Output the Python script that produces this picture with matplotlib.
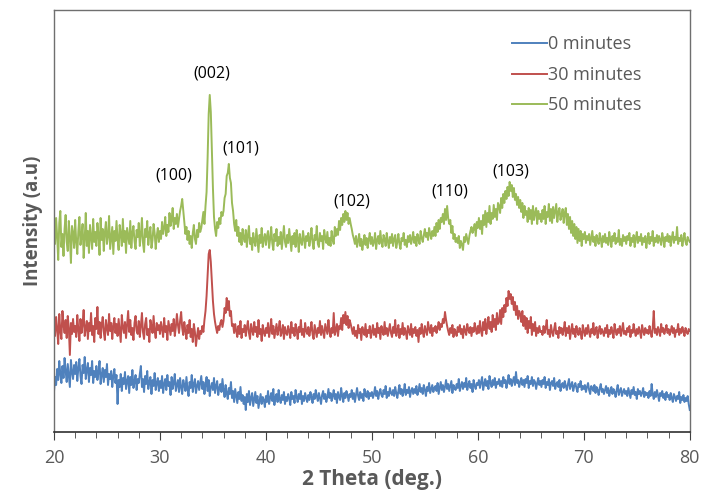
import numpy as np
import matplotlib.pyplot as plt

# 2 theta grid, 0.1 deg steps from 20 to 80
two_theta = np.round(np.arange(20, 80.001, 0.1), 1)

# intensities (arbitrary units, traces already offset)
# one row = 2 degrees
int_0min = [
    40, 55, 47, 63, 52, 71, 58, 49, 66, 54, 74, 61, 50, 68, 57, 45, 72, 60, 53, 67,
    58, 70, 51, 64, 73, 56, 48, 67, 59, 75, 53, 62, 69, 50, 64, 57, 71, 49, 61, 55,
    66, 52, 60, 71, 48, 57, 64, 50, 62, 55, 68, 47, 58, 53, 61, 45, 56, 63, 49, 57,
    28, 52, 45, 58, 41, 54, 48, 60, 43, 51, 56, 39, 55, 47, 62, 44, 50, 57, 42, 53,
    49, 58, 66, 45, 53, 40, 56, 48, 61, 43, 50, 55, 38, 52, 46, 59, 42, 49, 54, 41,
    51, 44, 56, 39, 48, 53, 42, 57, 46, 50, 37, 55, 43, 49, 58, 41, 47, 52, 40, 54,
    45, 38, 52, 47, 41, 55, 43, 36, 50, 44, 57, 40, 48, 53, 39, 46, 51, 42, 49, 56,
    43, 50, 38, 47, 55, 41, 52, 36, 45, 49, 42, 54, 39, 46, 51, 37, 44, 48, 40, 53,
    42, 35, 47, 39, 33, 44, 38, 50, 34, 41, 30, 43, 36, 29, 40, 33, 45, 31, 37, 28,
    35, 22, 38, 30, 41, 27, 34, 39, 26, 33, 40, 29, 36, 24, 31, 38, 28, 35, 32, 25,
    36, 30, 41, 28, 34, 39, 31, 43, 27, 35, 38, 30, 42, 33, 29, 37, 32, 40, 28, 35,
    31, 38, 34, 27, 40, 33, 36, 29, 42, 35, 30, 38, 33, 41, 28, 36, 31, 39, 34, 30,
    37, 32, 40, 35, 29, 38, 33, 42, 36, 31, 39, 34, 28, 37, 41, 33, 38, 30, 35, 43,
    34, 39, 31, 36, 42, 33, 38, 29, 40, 35, 32, 44, 36, 30, 39, 34, 41, 37, 31, 38,
    35, 42, 33, 39, 30, 37, 44, 36, 32, 40, 34, 38, 31, 43, 37, 35, 41, 33, 39, 36,
    40, 34, 38, 45, 36, 41, 33, 39, 43, 37, 35, 42, 38, 46, 34, 40, 36, 44, 39, 37,
    42, 36, 45, 39, 34, 41, 47, 38, 43, 36, 40, 48, 37, 42, 39, 45, 35, 41, 44, 38,
    43, 39, 46, 37, 41, 48, 40, 44, 38, 47, 42, 36, 45, 41, 49, 39, 43, 47, 40, 44,
    46, 41, 49, 38, 44, 50, 42, 47, 40, 45, 52, 43, 48, 41, 46, 51, 39, 47, 44, 42,
    48, 44, 53, 41, 46, 50, 43, 49, 45, 54, 42, 47, 51, 44, 48, 40, 52, 46, 43, 49,
    47, 52, 44, 50, 55, 42, 48, 53, 46, 51, 43, 56, 49, 45, 52, 47, 54, 44, 50, 48,
    53, 46, 51, 45, 55, 49, 52, 44, 50, 57, 48, 53, 46, 51, 55, 47, 60, 49, 52, 45,
    50, 54, 47, 52, 45, 53, 49, 56, 44, 51, 48, 55, 46, 52, 50, 43, 49, 54, 47, 51,
    45, 52, 48, 55, 44, 50, 47, 53, 42, 49, 51, 46, 54, 43, 48, 50, 45, 52, 41, 47,
    49, 44, 51, 46, 42, 48, 53, 43, 47, 50, 41, 46, 49, 44, 40, 48, 45, 51, 42, 46,
    43, 47, 40, 45, 49, 42, 38, 46, 44, 41, 47, 39, 45, 42, 37, 44, 48, 40, 43, 38,
    42, 46, 39, 44, 36, 41, 45, 38, 43, 40, 35, 42, 47, 37, 41, 44, 36, 40, 43, 38,
    41, 36, 44, 39, 34, 42, 38, 45, 37, 40, 33, 43, 38, 41, 36, 39, 44, 35, 40, 37,
    39, 34, 41, 36, 48, 38, 33, 40, 35, 42, 37, 31, 39, 36, 41, 34, 38, 32, 40, 35,
    37, 32, 39, 34, 30, 38, 35, 31, 36, 33, 40, 29, 35, 32, 37, 30, 34, 31, 36, 28,
    22]

int_30min = [
    110, 96, 115, 103, 88, 118, 101, 93, 121, 107, 99, 112, 94, 116, 104, 77, 109, 98, 113, 100,
    106, 95, 117, 102, 91, 113, 99, 108, 122, 96, 104, 111, 93, 109, 101, 119, 97, 106, 90, 114,
    103, 125, 98, 110, 94, 107, 115, 100, 92, 112, 104, 97, 118, 101, 109, 93, 106, 114, 99, 108,
    96, 113, 102, 90, 117, 105, 99, 110, 94, 107, 121, 100, 112, 97, 104, 92, 109, 116, 101, 98,
    111, 95, 106, 119, 100, 93, 108, 114, 97, 103, 90, 112, 105, 99, 116, 101, 94, 109, 102, 107,
    98, 110, 103, 95, 114, 100, 106, 92, 111, 104, 97, 108, 101, 113, 96, 105, 118, 107, 99, 111,
    120, 104, 97, 110, 101, 93, 107, 99, 112, 95, 103, 90, 108, 100, 86, 96, 104, 93, 101, 98,
    106, 100, 112, 121, 136, 158, 178, 182, 170, 150, 131, 118, 110, 104, 99, 106, 102, 109, 112, 105,
    111, 124, 119, 134, 122, 131, 116, 121, 106, 108, 99, 108, 101, 95, 106, 98, 111, 94, 103, 100,
    107, 96, 104, 111, 99, 93, 108, 102, 97, 110, 100, 105, 95, 112, 98, 103, 91, 107, 100, 96,
    104, 99, 109, 95, 102, 113, 98, 106, 94, 101, 108, 97, 103, 111, 96, 100, 107, 93, 105, 99,
    97, 106, 101, 94, 110, 99, 104, 96, 108, 102, 93, 105, 100, 112, 97, 103, 95, 109, 101, 98,
    105, 96, 102, 110, 98, 93, 107, 101, 95, 104, 99, 111, 97, 106, 100, 94, 108, 103, 98, 112,
    101, 95, 104, 99, 119, 97, 102, 108, 96, 106, 103, 114, 102, 117, 109, 120, 107, 116, 104, 112,
    108, 103, 98, 105, 96, 101, 94, 107, 99, 103, 92, 105, 100, 97, 108, 95, 102, 99, 106, 94,
    100, 107, 97, 103, 95, 109, 99, 104, 93, 106, 101, 97, 110, 98, 104, 96, 102, 108, 99, 95,
    105, 99, 112, 96, 101, 107, 94, 103, 98, 109, 97, 104, 100, 93, 106, 101, 97, 108, 95, 103,
    99, 105, 96, 102, 90, 104, 98, 108, 100, 95, 106, 101, 97, 110, 103, 99, 107, 96, 104, 101,
    106, 99, 104, 110, 102, 108, 105, 113, 109, 120, 112, 106, 101, 97, 104, 99, 107, 95, 103, 100,
    96, 105, 100, 107, 98, 103, 94, 106, 101, 97, 108, 102, 99, 105, 96, 104, 100, 109, 103, 98,
    106, 99, 111, 101, 96, 110, 102, 113, 98, 107, 115, 103, 110, 100, 117, 105, 113, 102, 119, 108,
    110, 122, 108, 124, 115, 127, 120, 134, 126, 141, 133, 138, 128, 135, 122, 130, 117, 126, 113, 121,
    118, 110, 121, 106, 116, 103, 114, 99, 111, 104, 115, 97, 108, 101, 110, 96, 104, 99, 106, 100,
    101, 97, 106, 99, 104, 112, 98, 102, 95, 107, 100, 96, 103, 109, 98, 101, 94, 105, 99, 104,
    97, 102, 110, 96, 104, 99, 106, 93, 101, 108, 98, 103, 95, 106, 100, 97, 104, 99, 93, 107,
    101, 96, 104, 98, 107, 100, 95, 103, 99, 109, 97, 102, 105, 94, 101, 106, 98, 103, 100, 96,
    104, 99, 107, 95, 102, 98, 105, 100, 94, 108, 101, 97, 103, 99, 106, 96, 102, 109, 98, 101,
    97, 104, 100, 106, 95, 102, 99, 108, 101, 96, 103, 98, 105, 100, 94, 107, 101, 97, 104, 99,
    102, 98, 106, 100, 95, 104, 121, 99, 103, 97, 105, 101, 96, 108, 100, 104, 98, 102, 107, 99,
    103, 97, 101, 106, 99, 104, 95, 102, 100, 108, 97, 103, 99, 105, 101, 96, 104, 100, 98, 103,
    101]

int_50min = [
    205, 188, 214, 196, 172, 209, 221, 185, 198, 176, 203, 217, 190, 181, 211, 194, 169, 206, 199, 184,
    212, 190, 178, 201, 215, 187, 196, 208, 174, 193, 219, 186, 201, 179, 207, 195, 183, 213, 190, 200,
    186, 209, 197, 177, 214, 192, 203, 181, 199, 210, 188, 196, 216, 183, 194, 205, 178, 201, 191, 211,
    193, 182, 207, 198, 186, 213, 190, 201, 179, 204, 196, 188, 211, 184, 199, 206, 191, 183, 202, 195,
    209, 186, 197, 214, 189, 180, 203, 195, 211, 187, 198, 205, 184, 192, 208, 199, 183, 196, 204, 190,
    201, 193, 210, 198, 204, 215, 196, 207, 200, 219, 206, 212, 224, 203, 214, 208, 218, 205, 213, 221,
    226, 233, 222, 210, 198, 205, 192, 201, 188, 196, 184, 199, 207, 193, 188, 202, 195, 209, 200, 204,
    212, 220, 208, 226, 240, 275, 318, 337, 320, 281, 244, 215, 203, 196, 210, 204, 214, 208, 220, 216,
    221, 234, 238, 256, 259, 268, 254, 249, 229, 221, 208, 201, 212, 196, 205, 190, 199, 187, 203, 194,
    190, 202, 185, 197, 206, 188, 194, 182, 199, 191, 186, 203, 192, 180, 197, 189, 204, 185, 193, 198,
    187, 196, 201, 184, 193, 205, 189, 182, 198, 191, 203, 186, 195, 188, 200, 183, 194, 206, 190, 185,
    197, 189, 203, 192, 181, 196, 188, 199, 185, 202, 194, 180, 198, 190, 187, 201, 193, 184, 196, 191,
    199, 186, 193, 204, 190, 183, 197, 192, 206, 188, 185, 199, 191, 196, 183, 202, 194, 189, 200, 187,
    194, 186, 201, 192, 188, 205, 196, 203, 197, 211, 202, 214, 207, 218, 210, 221, 212, 219, 208, 214,
    208, 203, 197, 193, 188, 196, 185, 191, 198, 186, 193, 182, 190, 197, 187, 194, 184, 192, 199, 188,
    195, 186, 190, 199, 183, 192, 196, 188, 201, 190, 185, 197, 193, 186, 199, 191, 184, 195, 189, 198,
    186, 193, 197, 184, 190, 198, 188, 183, 194, 191, 199, 187, 192, 185, 196, 190, 197, 188, 193, 200,
    189, 195, 186, 198, 192, 188, 201, 194, 190, 197, 203, 195, 199, 192, 204, 198, 193, 201, 196, 205,
    196, 209, 200, 212, 203, 214, 210, 218, 208, 223, 212, 226, 214, 208, 212, 199, 206, 193, 198, 190,
    194, 189, 196, 184, 191, 187, 182, 195, 190, 198, 193, 188, 196, 201, 205, 199, 203, 208, 196, 210,
    204, 214, 203, 211, 198, 217, 207, 221, 205, 219, 210, 226, 208, 219, 213, 227, 215, 223, 212, 229,
    226, 219, 234, 224, 238, 229, 241, 233, 245, 236, 250, 241, 247, 235, 244, 232, 238, 227, 235, 224,
    232, 220, 229, 214, 226, 217, 221, 210, 224, 213, 222, 208, 226, 212, 219, 224, 208, 221, 213, 218,
    210, 222, 213, 226, 208, 220, 215, 228, 211, 223, 209, 225, 214, 221, 228, 210, 220, 224, 212, 217,
    223, 209, 219, 224, 207, 218, 203, 215, 199, 211, 196, 208, 193, 205, 189, 203, 191, 201, 186, 198,
    193, 200, 189, 196, 192, 198, 187, 194, 201, 190, 195, 186, 197, 192, 188, 199, 193, 185, 196, 190,
    198, 189, 194, 187, 200, 192, 185, 196, 191, 199, 188, 194, 190, 202, 187, 193, 186, 197, 191, 195,
    188, 196, 192, 199, 186, 194, 190, 197, 185, 193, 200, 189, 195, 191, 198, 187, 194, 190, 196, 184,
    193, 199, 188, 195, 191, 201, 186, 194, 190, 197, 189, 196, 192, 187, 199, 193, 185, 195, 191, 198,
    190, 196, 186, 194, 200, 189, 195, 192, 205, 188, 194, 191, 197, 186, 193, 199, 190, 187, 195, 192,
    190]

series_labels = ['0 minutes', '30 minutes', '50 minutes']
series_colors = ['#4F81BD', '#C0504D', '#9BBB59']

# peak labels (hkl) and where they sit
peak_labels = ['(100)', '(002)', '(101)', '(102)', '(110)', '(103)']
peak_x = [31.3, 34.9, 37.6, 48.1, 57.4, 63.1]
peak_y = [256, 358, 283, 230, 240, 260]

plt.rcParams['font.family'] = ['Open Sans', 'DejaVu Sans']

fig = plt.figure(figsize=(7.01, 4.96), dpi=100)
ax = fig.add_axes([0.077, 0.129, 0.907, 0.851])

for yvals, lab, col in zip([int_0min, int_30min, int_50min], series_labels, series_colors):
    ax.plot(two_theta, yvals, color=col, lw=1.4, label=lab)

for lab, x, y in zip(peak_labels, peak_x, peak_y):
    ax.text(x, y, lab, ha='center', va='center', fontsize=11.5, color='black')

ax.set_xlim(20, 80)
ax.set_ylim(0, 422)
ax.set_xticks(np.arange(20, 81, 10))
ax.set_xticks(np.arange(20, 81, 2), minor=True)
ax.set_yticks([])
ax.tick_params(axis='x', which='major', direction='out', length=6, labelsize=13,
               labelcolor='#595959', color='#404040', pad=6)
ax.tick_params(axis='x', which='minor', direction='out', length=4, color='#404040')

ax.set_xlabel('2 Theta (deg.)', fontsize=15, fontweight='bold', color='#595959', labelpad=2)
ax.set_ylabel('Intensity (a.u)', fontsize=13.5, fontweight='bold', color='#595959', labelpad=8)

for side in ['top', 'right', 'left']:
    ax.spines[side].set_color('#6f6f6f')
    ax.spines[side].set_linewidth(1.0)
ax.spines['bottom'].set_color('#303030')
ax.spines['bottom'].set_linewidth(1.2)

leg = ax.legend(loc='upper right', bbox_to_anchor=(0.95, 0.978), frameon=False, fontsize=13,
                handlelength=1.9, handletextpad=0.1, labelspacing=0.69)
for t in leg.get_texts():
    t.set_color('#595959')

fig.savefig('out.png', dpi=100)
